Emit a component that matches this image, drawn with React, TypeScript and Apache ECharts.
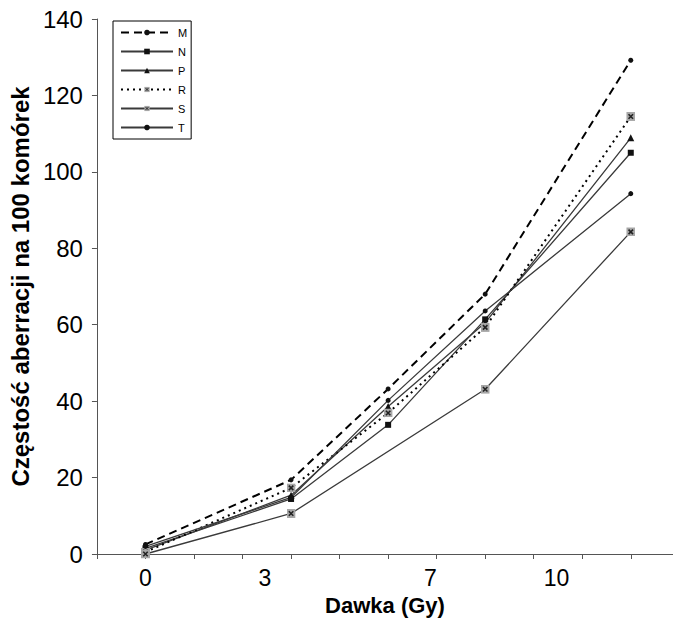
import React, { useEffect, useRef } from "react";
import * as echarts from "echarts";

const xPositions = [0, 3, 5, 7, 10];
const seriesNames = ["M", "N", "P", "R", "S", "T"];
const valuesM = [2.5, 19.4, 43.2, 68.0, 129.2];
const valuesN = [1.5, 14.4, 33.8, 61.4, 105.0];
const valuesP = [1.0, 15.4, 38.6, 60.5, 108.9];
const valuesR = [0.5, 17.3, 36.9, 59.3, 114.5];
const valuesS = [0.0, 10.6, null, 43.1, 84.3];
const valuesT = [2.0, 14.8, 40.2, 63.6, 94.3];

const xTickValues = [-1, 0, 1, 2, 3, 4, 5, 6, 7, 8, 9, 10];
const xTickLabels = ["0", "3", "7", "10"];
const xTickLabelPositions = [0, 2.46, 5.87, 8.47];

const FONT = "Liberation Sans, Arial, sans-serif";

const xMarkSvg =
  "<svg xmlns='http://www.w3.org/2000/svg' width='20' height='20' viewBox='0 0 20 20'>" +
  "<rect width='20' height='20' fill='#a6a6a6'/>" +
  "<path d='M5 5L15 15M15 5L5 15' stroke='#222' stroke-width='3.5'/></svg>";
const xMarkSymbol = "image://data:image/svg+xml;utf8," + encodeURIComponent(xMarkSvg);

function pairs(vals: (number | null)[]) {
  const out: number[][] = [];
  vals.forEach((v, i) => {
    if (v !== null) out.push([xPositions[i], v]);
  });
  return out;
}

export default function App() {
  const ref = useRef<HTMLDivElement>(null);
  useEffect(() => {
    document.body.style.margin = "0";
    const chart = echarts.init(ref.current!, null, { renderer: "svg" });
    const lineColor = "#3a3a3a";
    const mk = (
      name: string,
      vals: (number | null)[],
      symbol: string,
      size: number,
      ls: any
    ) => ({
      name,
      type: "line",
      data: pairs(vals),
      symbol,
      symbolSize: size,
      connectNulls: true,
      lineStyle: ls,
      itemStyle: { color: "#111" },
      emphasis: { disabled: true },
    });
    chart.setOption({
      animation: false,
      textStyle: { fontFamily: FONT },
      grid: { left: 93, right: 0, top: 19, bottom: 61, containLabel: false },
      legend: {
        data: seriesNames,
        orient: "vertical",
        left: 113,
        top: 21,
        borderColor: "#000",
        borderWidth: 1,
        padding: [6, 4, 6, 7],
        itemWidth: 52,
        itemHeight: 7,
        itemGap: 8,
        textStyle: { fontSize: 11, color: "#000", fontFamily: FONT },
      },
      xAxis: {
        type: "value",
        min: -1,
        max: 10.87,
        interval: 1,
        splitLine: { show: false },
        axisLine: { onZero: false, lineStyle: { color: "#555", width: 1 } },
        axisTick: { show: true, length: 5, customValues: xTickValues, lineStyle: { color: "#555" } },
        axisLabel: {
          customValues: xTickLabelPositions,
          formatter: (v: number) => {
            let best = 0;
            xTickLabelPositions.forEach((p, i) => {
              if (Math.abs(p - v) < Math.abs(xTickLabelPositions[best] - v)) best = i;
            });
            return xTickLabels[best];
          },
          fontSize: 23,
          color: "#000",
          margin: 12,
          fontFamily: FONT,
        },
        name: "Dawka (Gy)",
        nameLocation: "middle",
        nameGap: 40,
        nameTextStyle: { fontSize: 22, fontWeight: "bold", color: "#000", fontFamily: FONT },
      },
      yAxis: {
        type: "value",
        min: 0,
        max: 140,
        interval: 20,
        splitLine: { show: false },
        axisLine: { show: true, onZero: false, lineStyle: { color: "#555", width: 1 } },
        axisTick: { show: true, length: 5, lineStyle: { color: "#555" } },
        axisLabel: { fontSize: 24, color: "#000", margin: 14, fontFamily: FONT },
        name: "Częstość aberracji na 100 komórek",
        nameLocation: "middle",
        nameRotate: 90,
        nameGap: 59,
        nameTextStyle: { fontSize: 24, fontWeight: "bold", color: "#000", fontFamily: FONT },
      },
      series: [
        mk("M", valuesM, "circle", 5, { color: "#000", width: 2, type: [8, 5] }),
        mk("N", valuesN, "rect", 6, { color: lineColor, width: 1.3 }),
        mk("P", valuesP, "triangle", 7, { color: lineColor, width: 1.3 }),
        mk("R", valuesR, xMarkSymbol, 9, { color: "#000", width: 2, type: [2, 4] }),
        mk("S", valuesS, xMarkSymbol, 9, { color: lineColor, width: 1.3 }),
        mk("T", valuesT, "circle", 5, { color: lineColor, width: 1.3 }),
      ],
    });
    return () => chart.dispose();
  }, []);
  return <div ref={ref} style={{ width: 673, height: 621 }} />;
}
